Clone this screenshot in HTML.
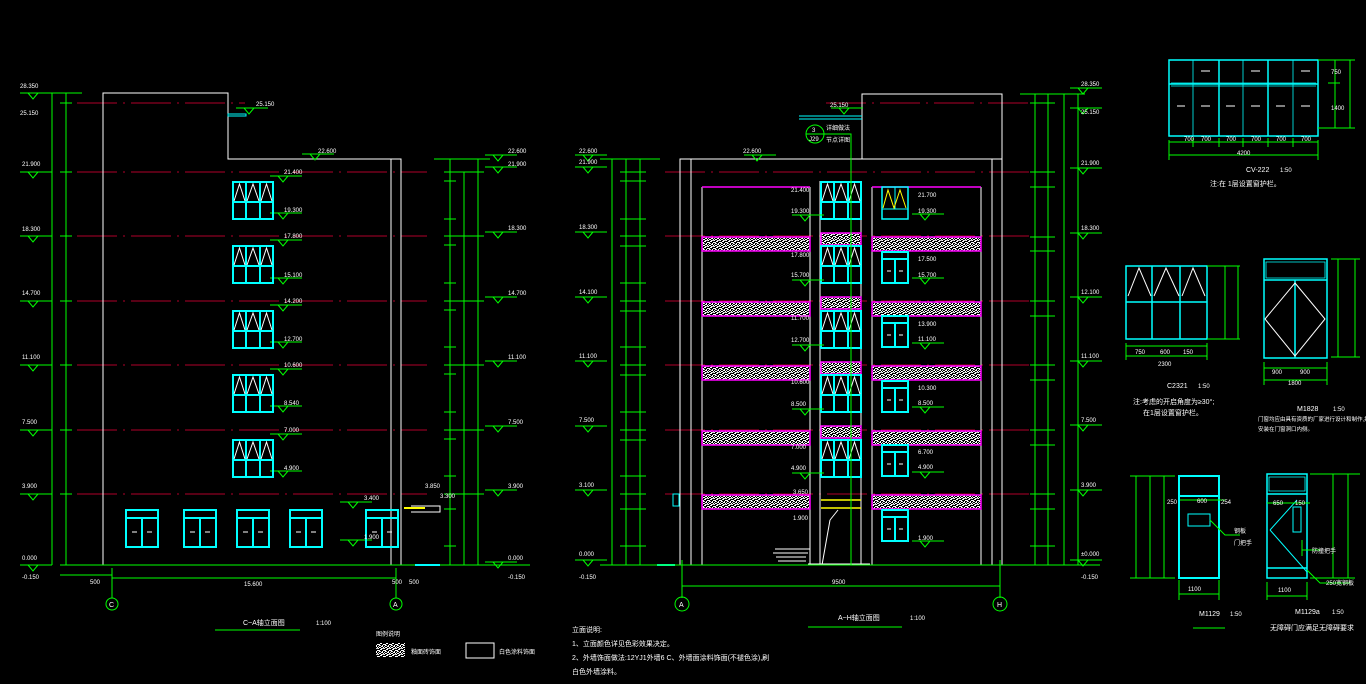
<!DOCTYPE html>
<html><head><meta charset="utf-8"><style>
html,body{margin:0;padding:0;background:#000;}
svg{display:block}
text{font-family:"Liberation Sans","Noto Sans CJK SC",sans-serif;fill:#fff;font-size:6px}
</style></head><body>
<svg width="1366" height="684" viewBox="0 0 1366 684" xmlns="http://www.w3.org/2000/svg">
<defs>
<pattern id="sp" width="6" height="6" patternUnits="userSpaceOnUse">
<rect width="6" height="6" fill="#000"/>
<rect x="0" y="0" width="1" height="1" fill="#fff"/><rect x="3" y="1" width="1" height="1" fill="#fff"/>
<rect x="1" y="3" width="1" height="1" fill="#fff"/><rect x="4" y="4" width="1" height="1" fill="#fff"/>
<rect x="2" y="5" width="1" height="1" fill="#fff"/><rect x="5" y="2" width="1" height="1" fill="#fff"/>
<rect x="0" y="4" width="1" height="1" fill="#ddd"/><rect x="4" y="0" width="1" height="1" fill="#ddd"/>
<rect x="2" y="1" width="1" height="1" fill="#fff"/><rect x="5" y="5" width="1" height="1" fill="#fff"/>
<rect x="1" y="2" width="1" height="1" fill="#eee"/><rect x="3" y="4" width="1" height="1" fill="#eee"/>
<rect x="0" y="2" width="1" height="1" fill="#fff"/><rect x="4" y="3" width="1" height="1" fill="#fff"/>
<rect x="2" y="3" width="1" height="1" fill="#ccc"/><rect x="5" y="0" width="1" height="1" fill="#ccc"/>
<rect x="1" y="5" width="1" height="1" fill="#fff"/><rect x="3" y="0" width="1" height="1" fill="#eee"/>
</pattern>
<g id="lv"><path d="M0 0H32M8 0L13 6L18 0" stroke="#0f0" fill="none" stroke-width="1"/></g>
<g id="wa">
<rect x="0" y="0" width="40" height="37" fill="none" stroke="#0ff" stroke-width="2"/>
<path d="M0 20H40M13 0V37M27 0V37" stroke="#0ff" stroke-width="2"/>
<path d="M1 19L6.5 2L12 19M14 19L20 2L26 19M28 19L33.5 2L39 19" stroke="#fff" fill="none" stroke-width="1"/>
</g>
<g id="wd">
<rect x="0" y="0" width="26" height="31" fill="none" stroke="#0ff" stroke-width="2"/>
<path d="M0 7H26M13 7V31" stroke="#0ff" stroke-width="2"/>
<path d="M5 19H9M17 19H21" stroke="#fff"/>
</g>
<g id="wl">
<rect x="0" y="0" width="32" height="37" fill="none" stroke="#0ff" stroke-width="2"/>
<path d="M0 8H32M16 8V37" stroke="#0ff" stroke-width="2"/>
<path d="M6 22H11M21 22H26" stroke="#fff"/>
</g>
</defs>

<!-- ============ LEFT ELEVATION ============ -->
<g stroke="#b0002a" stroke-width="1" stroke-dasharray="40 6 2 6">
<path d="M77 103H245M77 172H427M77 236H427M77 301H427M77 365H427M77 430H427M77 494H427M77 565H427"/>
</g>
<path d="M103 565V93H228V159H401V565M391 159V565" stroke="#fff" fill="none" stroke-width="1"/>
<rect x="228" y="114" width="18" height="2" fill="none" stroke="#0ff"/>
<g stroke="#0f0" stroke-width="1" fill="none">
<path d="M52 93V565M66 93V565M45 93H82M60 103H72M60 172H72M60 236H72M60 301H72M60 365H72M60 430H72M60 494H72M60 565H72"/>
<path d="M450 159V565M464 172V565M478 159V565M434 159H490M444 172H484M444 181H456M444 219H456M444 236H484M444 245H456M444 283H456M444 301H484M444 310H456M444 347H456M444 365H484M444 374H456M444 412H456M444 430H484M444 439H456M444 476H456M444 494H484M444 509H456M444 546H456M444 565H484"/>
<path d="M60 565H530M60 575H112M112 568V598M396 568V598M112 578H396"/>
<circle cx="112" cy="604" r="6"/><circle cx="396" cy="604" r="6"/>
<path d="M215 630H300"/>
</g>
<g>
<use href="#lv" x="20" y="93"/><use href="#lv" x="20" y="172"/><use href="#lv" x="20" y="236"/><use href="#lv" x="20" y="301"/><use href="#lv" x="20" y="365"/><use href="#lv" x="20" y="430"/><use href="#lv" x="20" y="494"/><use href="#lv" x="20" y="565"/>
<use href="#lv" x="485" y="155"/><use href="#lv" x="485" y="167"/><use href="#lv" x="485" y="232"/><use href="#lv" x="485" y="297"/><use href="#lv" x="485" y="361"/><use href="#lv" x="485" y="426"/><use href="#lv" x="485" y="490"/><use href="#lv" x="485" y="562"/>
<use href="#lv" x="236" y="108"/><use href="#lv" x="302" y="154"/>
<use href="#lv" x="270" y="176"/><use href="#lv" x="270" y="213"/><use href="#lv" x="270" y="240"/><use href="#lv" x="270" y="278"/><use href="#lv" x="270" y="305"/><use href="#lv" x="270" y="342"/><use href="#lv" x="270" y="369"/><use href="#lv" x="270" y="406"/><use href="#lv" x="270" y="434"/><use href="#lv" x="270" y="471"/><use href="#lv" x="340" y="502"/><use href="#lv" x="340" y="540"/>
</g>
<use href="#wa" x="233" y="182"/><use href="#wa" x="233" y="246"/><use href="#wa" x="233" y="311"/><use href="#wa" x="233" y="375"/><use href="#wa" x="233" y="440"/>
<use href="#wl" x="126" y="510"/><use href="#wl" x="184" y="510"/><use href="#wl" x="237" y="510"/><use href="#wl" x="290" y="510"/><use href="#wl" x="366" y="510"/>
<path d="M411 506H440V512H411" stroke="#fff" fill="none"/><path d="M404 508H425" stroke="#ff0" stroke-width="2"/>
<path d="M415 565H440" stroke="#0ff" stroke-width="2"/>
<g>
<text x="20" y="88">28.350</text><text x="20" y="115">25.150</text><text x="256" y="106">25.150</text><text x="318" y="153">22.600</text>
<text x="22" y="166">21.900</text><text x="22" y="231">18.300</text><text x="22" y="295">14.700</text><text x="22" y="359">11.100</text><text x="22" y="424">7.500</text><text x="22" y="488">3.900</text><text x="22" y="560">0.000</text><text x="22" y="579">-0.150</text>
<text x="508" y="153">22.600</text><text x="508" y="166">21.900</text><text x="508" y="230">18.300</text><text x="508" y="295">14.700</text><text x="508" y="359">11.100</text><text x="508" y="424">7.500</text><text x="508" y="488">3.900</text><text x="508" y="560">0.000</text><text x="508" y="579">-0.150</text>
<text x="284" y="174">21.400</text><text x="284" y="212">19.300</text><text x="284" y="238">17.800</text><text x="284" y="277">15.100</text><text x="284" y="303">14.200</text><text x="284" y="341">12.700</text><text x="284" y="367">10.600</text><text x="284" y="405">8.540</text><text x="284" y="432">7.000</text><text x="284" y="470">4.900</text><text x="364" y="500">3.400</text><text x="364" y="539">1.900</text>
<text x="425" y="488">3.850</text><text x="440" y="498">3.300</text>
<text x="90" y="584">500</text><text x="244" y="586">15.600</text><text x="392" y="584">500</text><text x="409" y="584">500</text>
<text x="109" y="607" style="font-size:7px">C</text><text x="393" y="607" style="font-size:7px">A</text>
<text x="243" y="625" style="font-size:7px">C~A轴立面图</text><text x="316" y="625">1:100</text>
</g>

<!-- ============ MIDDLE ELEVATION ============ -->
<g stroke="#b0002a" stroke-width="1" stroke-dasharray="40 6 2 6">
<path d="M826 103H1030M665 172H1030M665 236H1030M665 301H1030M665 365H1030M665 430H1030M665 494H1030M665 565H1030"/>
</g>
<path d="M680 565V159H1002V565M691 159V565M992 159V565M862 159V94H1002V159" stroke="#fff" fill="none"/>
<path d="M702 187V565M810 187V565M820 181V565M861 181V565M872 187V565M981 187V565" stroke="#fff" fill="none"/>
<path d="M702 187H810M872 187H981" stroke="#f0f" stroke-width="1.5"/>
<g fill="url(#sp)" stroke="#f0f" stroke-width="1.5">
<rect x="702" y="237" width="108" height="14"/><rect x="872" y="237" width="109" height="14"/>
<rect x="702" y="302" width="108" height="14"/><rect x="872" y="302" width="109" height="14"/>
<rect x="702" y="366" width="108" height="14"/><rect x="872" y="366" width="109" height="14"/>
<rect x="702" y="431" width="108" height="14"/><rect x="872" y="431" width="109" height="14"/>
<rect x="702" y="495" width="108" height="14"/><rect x="872" y="495" width="109" height="14"/>
<rect x="821" y="233" width="40" height="12"/><rect x="821" y="297" width="40" height="12"/><rect x="821" y="362" width="40" height="12"/><rect x="821" y="426" width="40" height="12"/>
</g>
<use href="#wa" x="821" y="182"/><use href="#wa" x="821" y="246"/><use href="#wa" x="821" y="311"/><use href="#wa" x="821" y="375"/><use href="#wa" x="821" y="440"/>
<rect x="882" y="187" width="26" height="32" fill="none" stroke="#0ff" stroke-width="1.5"/>
<path d="M882 209H908M895 187V209" stroke="#0ff"/>
<path d="M883 208L888 190L894 208L900 190L906 208" stroke="#ff0" fill="none"/>
<use href="#wd" x="882" y="252"/><use href="#wd" x="882" y="316"/><use href="#wd" x="882" y="381"/><use href="#wd" x="882" y="445"/><use href="#wd" x="882" y="510"/>
<path d="M821 500H861M821 508H861" stroke="#ff0" stroke-width="1.5"/>
<path d="M822 565L830 520M830 520L838 510M808 564H870" stroke="#fff"/>
<path d="M773 553H808M776 557H806M778 561H806M780 565H806M775 549H810" stroke="#fff"/>
<rect x="673" y="494" width="6" height="12" fill="none" stroke="#0ff"/>
<path d="M657 565H675" stroke="#0ff" stroke-width="2"/>
<path d="M799 116H862" stroke="#0ff"/><path d="M799 119H862" stroke="#0ff"/>
<g stroke="#0f0" fill="none">
<circle cx="815" cy="134" r="9"/><path d="M806 134H824M824 134H851V565"/>
<path d="M612 159V565M626 159V565M640 159V565M600 159H660M620 172H646M620 181H646M620 219H646M620 236H646M620 246H646M620 283H646M620 301H646M620 311H646M620 347H646M620 365H646M620 375H646M620 412H646M620 430H646M620 440H646M620 476H646M620 494H646M620 509H646M620 546H646M620 565H646"/>
<path d="M1035 94V565M1048 94V565M1064 94V565M1078 94V565M1020 94H1085M1030 103H1055M1030 172H1055M1030 187H1055M1030 237H1055M1030 251H1055M1030 301H1055M1030 316H1055M1030 365H1055M1030 380H1055M1030 430H1055M1030 445H1055M1030 494H1055M1030 509H1055M1030 546H1055M1030 565H1085"/>
<path d="M600 565H1100M682 560V598M1000 560V598M682 586H1000"/>
<circle cx="682" cy="604" r="7"/><circle cx="1000" cy="604" r="7"/>
<path d="M808 627H902"/>
</g>
<g>
<use href="#lv" x="575" y="155"/><use href="#lv" x="575" y="167"/><use href="#lv" x="575" y="232"/><use href="#lv" x="575" y="297"/><use href="#lv" x="575" y="361"/><use href="#lv" x="575" y="426"/><use href="#lv" x="575" y="490"/><use href="#lv" x="575" y="560"/>
<use href="#lv" x="744" y="155"/><use href="#lv" x="831" y="108"/>
<use href="#lv" x="1070" y="88"/><use href="#lv" x="1070" y="108"/><use href="#lv" x="1070" y="168"/><use href="#lv" x="1070" y="233"/><use href="#lv" x="1070" y="297"/><use href="#lv" x="1070" y="361"/><use href="#lv" x="1070" y="425"/><use href="#lv" x="1070" y="490"/><use href="#lv" x="1070" y="560"/>
<use href="#lv" x="792" y="215"/><use href="#lv" x="792" y="280"/><use href="#lv" x="792" y="345"/><use href="#lv" x="792" y="409"/><use href="#lv" x="792" y="473"/>
<use href="#lv" x="912" y="214"/><use href="#lv" x="912" y="278"/><use href="#lv" x="912" y="343"/><use href="#lv" x="912" y="407"/><use href="#lv" x="912" y="472"/><use href="#lv" x="912" y="541"/>
</g>
<g>
<text x="579" y="153">22.600</text><text x="579" y="164">21.900</text><text x="579" y="229">18.300</text><text x="579" y="294">14.100</text><text x="579" y="358">11.100</text><text x="579" y="422">7.500</text><text x="579" y="487">3.100</text><text x="579" y="556">0.000</text><text x="579" y="579">-0.150</text>
<text x="743" y="153">22.600</text><text x="830" y="107">25.150</text>
<text x="1081" y="86">28.350</text><text x="1081" y="114">25.150</text><text x="1081" y="165">21.900</text><text x="1081" y="230">18.300</text><text x="1081" y="294">12.100</text><text x="1081" y="358">11.100</text><text x="1081" y="422">7.500</text><text x="1081" y="487">3.900</text><text x="1081" y="556">±0.000</text><text x="1081" y="579">-0.150</text>
<text x="791" y="192">21.400</text><text x="791" y="213">19.300</text><text x="791" y="257">17.800</text><text x="791" y="277">15.700</text><text x="791" y="320">11.700</text><text x="791" y="342">12.700</text><text x="791" y="384">10.600</text><text x="791" y="406">8.500</text><text x="791" y="449">7.000</text><text x="791" y="470">4.900</text><text x="793" y="494">3.650</text><text x="793" y="520">1.900</text>
<text x="918" y="197">21.700</text><text x="918" y="213">19.300</text><text x="918" y="261">17.500</text><text x="918" y="277">15.700</text><text x="918" y="326">13.900</text><text x="918" y="341">11.100</text><text x="918" y="390">10.300</text><text x="918" y="405">8.500</text><text x="918" y="454">6.700</text><text x="918" y="469">4.900</text><text x="918" y="540">1.900</text>
<text x="812" y="132">3</text><text x="809" y="141">J29</text><text x="826" y="130">详细做法</text><text x="826" y="142">节点详图</text>
<text x="832" y="584">9500</text>
<text x="679" y="607" style="font-size:7px">A</text><text x="997" y="607" style="font-size:7px">H</text>
<text x="838" y="620" style="font-size:7px">A~H轴立面图</text><text x="910" y="620">1:100</text>
<text x="572" y="632" style="font-size:7px">立面说明:</text>
<text x="572" y="646" style="font-size:7px">1、立面颜色详见色彩效果决定。</text>
<text x="572" y="660" style="font-size:7px">2、外墙饰面做法:12YJ1外墙6 C、外墙面涂料饰面(不褪色涂),刷</text>
<text x="572" y="674" style="font-size:7px">白色外墙涂料。</text>
</g>
<rect x="376" y="643" width="29" height="14" fill="url(#sp)"/>
<rect x="466" y="643" width="28" height="15" fill="none" stroke="#fff"/>
<text x="376" y="636">图例说明</text><text x="411" y="654">釉面砖饰面</text><text x="499" y="654">白色涂料饰面</text>

<!-- ============ RIGHT DETAILS ============ -->
<g stroke="#0ff" fill="none" stroke-width="1.5">
<rect x="1169" y="60" width="149" height="76"/>
<path d="M1169 84H1318M1219 60V136M1268 60V136"/>
</g>
<path d="M1193 60V136M1243 60V136M1293 60V136M1171 83H1316M1171 86H1316" stroke="#0ff" stroke-width="0.8"/>
<path d="M1201 71H1210M1251 71H1260M1301 71H1310M1177 106H1185M1201 106H1210M1226 106H1235M1251 106H1260M1276 106H1285M1301 106H1310" stroke="#fff"/>
<g stroke="#0f0" fill="none">
<path d="M1318 60H1355M1318 128H1355M1335 60V128M1350 60V128M1328 83H1340M1169 140V160M1318 140V160M1169 142H1318M1169 155H1318M1193 138V147M1219 138V147M1243 138V147M1268 138V147M1293 138V147"/>
</g>
<text x="1184" y="141">700</text><text x="1201" y="141">700</text><text x="1226" y="141">700</text><text x="1251" y="141">700</text><text x="1276" y="141">700</text><text x="1301" y="141">700</text>
<text x="1237" y="155">4200</text><text x="1331" y="74">750</text><text x="1331" y="110">1400</text>
<text x="1246" y="172" style="font-size:7px">CV-222</text><text x="1280" y="172">1:50</text>
<text x="1210" y="186" style="font-size:7px">注:在 1层设置窗护栏。</text>
<g stroke="#0ff" fill="none" stroke-width="1.5">
<rect x="1126" y="266" width="81" height="73"/>
<path d="M1126 302H1207M1152 266V339M1180 266V339"/>
</g>
<path d="M1128 296L1139 268L1151 296M1154 296L1166 268L1179 296M1182 296L1193 268L1205 296" stroke="#fff" fill="none"/>
<g stroke="#0f0" fill="none"><path d="M1207 266H1240M1207 339H1240M1225 266V339M1238 266V339M1126 343V360M1207 343V360M1126 346H1207M1126 356H1207"/></g>
<text x="1135" y="354">750</text><text x="1160" y="354">600</text><text x="1183" y="354">150</text><text x="1158" y="366">2300</text>
<text x="1167" y="388" style="font-size:7px">C2321</text><text x="1198" y="388">1:50</text>
<text x="1133" y="404" style="font-size:7px">注:考虑的开启角度为≥30°;</text>
<text x="1143" y="415" style="font-size:7px">在1层设置窗护栏。</text>
<g stroke="#0ff" fill="none" stroke-width="1.5"><rect x="1264" y="259" width="63" height="99"/><path d="M1264 280H1327M1295 280V358"/></g>
<path d="M1266 262H1325V278H1266Z" stroke="#0ff" fill="none" stroke-width="0.8"/>
<path d="M1295 283L1325 319L1295 356L1265 319Z" stroke="#fff" fill="none"/>
<g stroke="#0f0" fill="none"><path d="M1331 259H1360M1331 357H1360M1355 259V357M1338 259V357M1264 362V385M1327 362V385M1264 368H1327M1264 380H1327"/></g>
<text x="1272" y="374">900</text><text x="1300" y="374">900</text><text x="1288" y="385">1800</text>
<text x="1297" y="411" style="font-size:7px">M1828</text><text x="1333" y="411">1:50</text>
<text x="1258" y="421" style="font-size:5.5px">门窗均应由具有资质的厂家进行设计和制作,并</text>
<text x="1258" y="431" style="font-size:5.5px">安装在门窗洞口内侧。</text>
<g stroke="#0ff" fill="none" stroke-width="2"><rect x="1179" y="476" width="40" height="102"/><path d="M1179 496H1219"/></g>
<rect x="1188" y="514" width="22" height="12" fill="none" stroke="#0ff"/>
<g stroke="#0f0" fill="none"><path d="M1130 476H1175M1130 578H1175M1136 476V578M1150 476V578M1164 476V578M1180 500H1225M1179 580V600M1219 580V600M1179 594H1219M1210 520L1225 535H1240M1193 628H1225"/></g>
<text x="1188" y="591">1100</text><text x="1197" y="503">600</text><text x="1167" y="504">250</text><text x="1221" y="504">254</text>
<text x="1234" y="533">钢板</text><text x="1234" y="545">门把手</text>
<text x="1199" y="616" style="font-size:7px">M1129</text><text x="1230" y="616">1:50</text>
<g stroke="#0ff" fill="none" stroke-width="1.5"><rect x="1267" y="474" width="40" height="104"/><path d="M1267 494H1307M1267 568H1307"/></g>
<path d="M1269 477H1305V491H1269Z" stroke="#0ff" fill="none" stroke-width="0.8"/>
<path d="M1270 530L1297 500M1270 530L1307 572" stroke="#0ff" fill="none"/>
<rect x="1293" y="507" width="8" height="25" fill="none" stroke="#0ff"/>
<g stroke="#0f0" fill="none"><path d="M1310 474H1360M1310 578H1355M1333 474V578M1348 474V578M1267 582V600M1307 582V600M1267 596H1307M1267 503H1310M1302 540V556M1302 550H1320M1307 570L1320 583H1350"/></g>
<text x="1278" y="592">1100</text><text x="1273" y="505">650</text><text x="1295" y="505">150</text>
<text x="1312" y="553">防撞把手</text><text x="1326" y="585">250宽钢板</text>
<text x="1295" y="614" style="font-size:7px">M1129a</text><text x="1332" y="614">1:50</text>
<text x="1270" y="630" style="font-size:7px">无障碍门应满足无障碍要求</text>
</svg>
</body></html>
